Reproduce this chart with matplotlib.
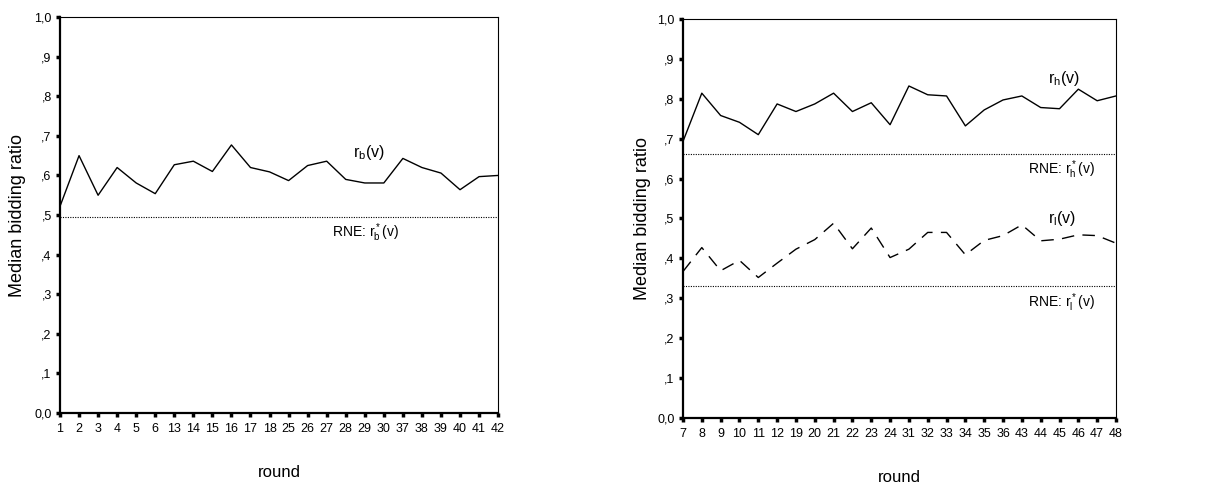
import matplotlib
matplotlib.use("Agg")
import matplotlib.pyplot as plt

plt.rcParams['font.family'] = ['Liberation Sans', 'DejaVu Sans']
plt.rcParams['mathtext.fontset'] = 'custom'
plt.rcParams['mathtext.rm'] = 'Liberation Sans'

# left panel: r_b
rounds_b = ['1', '2', '3', '4', '5', '6', '13', '14', '15', '16', '17', '18',
            '25', '26', '27', '28', '29', '30', '37', '38', '39', '40', '41', '42']
r_b = [0.522, 0.650, 0.550, 0.620, 0.581, 0.554, 0.627, 0.636, 0.610, 0.677, 0.620, 0.609,
       0.587, 0.625, 0.636, 0.590, 0.581, 0.581, 0.643, 0.620, 0.606, 0.564, 0.597, 0.600]
rne_b = 0.494

# right panel: r_h and r_l
rounds_hl = ['7', '8', '9', '10', '11', '12', '19', '20', '21', '22', '23', '24',
             '31', '32', '33', '34', '35', '36', '43', '44', '45', '46', '47', '48']
r_h = [0.693, 0.814, 0.758, 0.741, 0.710, 0.787, 0.768, 0.787, 0.814, 0.768, 0.790, 0.735,
       0.832, 0.810, 0.807, 0.732, 0.772, 0.797, 0.807, 0.778, 0.775, 0.824, 0.795, 0.807]
r_l = [0.367, 0.427, 0.369, 0.395, 0.352, 0.388, 0.423, 0.447, 0.488, 0.424, 0.476, 0.402,
       0.423, 0.465, 0.465, 0.409, 0.445, 0.457, 0.484, 0.444, 0.448, 0.459, 0.457, 0.438]
rne_h = 0.661
rne_l = 0.330

yticks = [0.0, 0.1, 0.2, 0.3, 0.4, 0.5, 0.6, 0.7, 0.8, 0.9, 1.0]
ytick_labels = ['0,0', ',1', ',2', ',3', ',4', ',5', ',6', ',7', ',8', ',9', '1,0']

fig = plt.figure(figsize=(12.17, 4.86), dpi=100)
ax1 = fig.add_axes([0.0493, 0.150, 0.360, 0.815])
ax2 = fig.add_axes([0.5612, 0.140, 0.3558, 0.821])


def style_axes(ax, rounds, xlab_y, ylab_x):
    n = len(rounds)
    ax.set_xlim(0, n - 1)
    ax.set_ylim(0, 1)
    ax.set_xticks(range(n))
    ax.set_xticklabels(rounds, fontsize=9)
    ax.set_yticks(yticks)
    ax.set_yticklabels(ytick_labels, fontsize=9)
    ax.tick_params(direction='out', length=3, width=2.5)
    ax.tick_params(axis='x', pad=4)
    ax.tick_params(axis='y', pad=3)
    for side in ['left', 'bottom']:
        ax.spines[side].set_linewidth(1.6)
    for side in ['top', 'right']:
        ax.spines[side].set_linewidth(0.8)
    ax.set_ylabel('Median bidding ratio', fontsize=13, va='center')
    ax.yaxis.set_label_coords(ylab_x, 0.5)
    ax.set_xlabel('round', fontsize=12, va='center')
    ax.xaxis.set_label_coords(0.5, xlab_y)


x_b = range(len(rounds_b))
ax1.plot(x_b, r_b, color='black', lw=1)
ax1.axhline(rne_b, color='black', lw=0.8, ls=(0, (1, 1.2)))
style_axes(ax1, rounds_b, -0.149, -0.097)
ax1.text(15.4, 0.657, r'$\mathregular{r_b(v)}$', fontsize=11.5, va='center')
ax1.text(14.3, 0.455, r'RNE: $\mathregular{r_b^*(v)}$', fontsize=10, va='center')

x_hl = range(len(rounds_hl))
ax2.plot(x_hl, r_h, color='black', lw=1)
ax2.plot(x_hl, r_l, color='black', lw=1, ls=(0, (9, 6)))
ax2.axhline(rne_h, color='black', lw=0.8, ls=(0, (1, 1.2)))
ax2.axhline(rne_l, color='black', lw=0.8, ls=(0, (1, 1.2)))
style_axes(ax2, rounds_hl, -0.150, -0.094)
ax2.text(19.4, 0.852, r'$\mathregular{r_h(v)}$', fontsize=11.5, va='center')
ax2.text(18.35, 0.621, r'RNE: $\mathregular{r_h^*(v)}$', fontsize=10, va='center')
ax2.text(19.4, 0.501, r'$\mathregular{r_l(v)}$', fontsize=11.5, va='center')
ax2.text(18.35, 0.288, r'RNE: $\mathregular{r_l^*(v)}$', fontsize=10, va='center')

fig.savefig('out.png', dpi=100)
plt.close(fig)
